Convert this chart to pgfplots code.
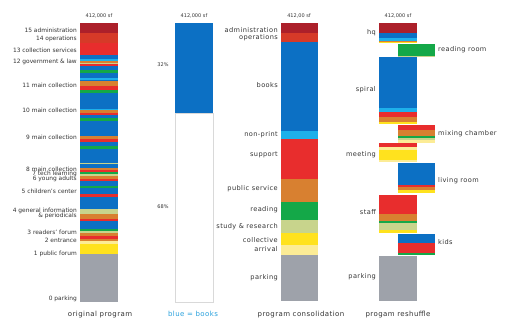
\documentclass[border=0pt]{standalone}
\usepackage{pgfplots}
\pgfplotsset{compat=1.18}
\usepackage{fontspec}
\setmainfont{DejaVu Sans}
\newfontfamily\spc[LetterSpace=6]{DejaVu Sans}
\definecolor{cDR}{RGB}{172,32,42}
\definecolor{cOR}{RGB}{214,58,40}
\definecolor{cR}{RGB}{232,45,45}
\definecolor{cB}{RGB}{12,112,196}
\definecolor{cLB}{RGB}{30,176,234}
\definecolor{cO}{RGB}{216,128,48}
\definecolor{cG}{RGB}{20,168,72}
\definecolor{cK}{RGB}{200,212,140}
\definecolor{cY}{RGB}{255,226,30}
\definecolor{cLY}{RGB}{252,236,150}
\definecolor{cGr}{RGB}{158,162,170}
\definecolor{txt}{RGB}{50,50,50}
\definecolor{bluetxt}{RGB}{40,160,220}
% rectangle segment: x1 x2 ytop ybottom colour
\newcommand{\seg}[5]{\addplot[fill=#5, draw=none] coordinates {(#1,#3) (#2,#3) (#2,#4) (#1,#4)} -- cycle;}
\newcommand{\segA}[3]{\seg{80}{118}{#1}{#2}{#3}}
\newcommand{\segC}[3]{\seg{281}{318}{#1}{#2}{#3}}
\newcommand{\segL}[3]{\seg{379}{417}{#1}{#2}{#3}}
\newcommand{\segR}[3]{\seg{398}{435}{#1}{#2}{#3}}
\begin{document}
\begin{tikzpicture}
\begin{axis}[scale only axis, width=514pt, height=329pt,
  xmin=0, xmax=514, ymin=0, ymax=329, y dir=reverse,
  axis lines=none, clip=false]
\path (rel axis cs:0,0) rectangle (rel axis cs:1,1);
% ---------- column 1: original program
\segA{22.7}{33.3}{cDR}
\segA{33.3}{43.3}{cOR}
\segA{43.3}{55}{cR}
\segA{55}{59.3}{cB}
\segA{59.3}{60.7}{cLB}
\segA{60.7}{62.7}{cO}
\segA{62.7}{64}{cK}
\segA{64}{65.7}{cR}
\segA{65.7}{70}{cB}
\segA{70}{73.3}{cG}
\segA{73.3}{78}{cB}
\segA{78}{79.7}{cLB}
\segA{79.7}{81}{cB}
\segA{81}{86}{cO}
\segA{86}{89.7}{cR}
\segA{89.7}{93}{cG}
\segA{93}{108.7}{cB}
\segA{108.7}{109.7}{cLB}
\segA{109.7}{113}{cO}
\segA{113}{115.3}{cR}
\segA{115.3}{118}{cB}
\segA{118}{121.3}{cG}
\segA{121.3}{136}{cB}
\segA{136}{139.3}{cO}
\segA{139.3}{142}{cR}
\segA{142}{146}{cB}
\segA{146}{148.7}{cG}
\segA{148.7}{162.7}{cB}
\segA{162.7}{164.3}{cK}
\segA{164.3}{167.7}{cB}
\segA{167.7}{170}{cO}
\segA{170}{172}{cR}
\segA{172}{174}{cG}
\segA{174}{176}{cK}
\segA{176}{178.7}{cO}
\segA{178.7}{181}{cR}
\segA{181}{186}{cB}
\segA{186}{188}{cG}
\segA{188}{194}{cB}
\segA{194}{197.3}{cR}
\segA{197.3}{209}{cB}
\segA{209}{214}{cK}
\segA{214}{219}{cO}
\segA{219}{221.3}{cR}
\segA{221.3}{229}{cB}
\segA{229}{231.3}{cG}
\segA{231.3}{233.3}{cK}
\segA{233.3}{235.7}{cO}
\segA{235.7}{239}{cR}
\segA{239}{240.7}{cO}
\segA{240.7}{244}{cLY}
\segA{244}{254}{cY}
\segA{254}{302}{cGr}
% ---------- column 2: blue = books
\addplot[fill=white, draw=black!15] coordinates {(175,113) (213,113) (213,302) (175,302)} -- cycle;
\seg{175}{213}{23.3}{113}{cB}
% ---------- column 3: program consolidation
\segC{23.3}{33.3}{cDR}
\segC{33.3}{41.7}{cOR}
\segC{41.7}{131}{cB}
\segC{131}{139.3}{cLB}
\segC{139.3}{179}{cR}
\segC{179}{201.7}{cO}
\segC{201.7}{220}{cG}
\segC{220}{232.7}{cK}
\segC{232.7}{245}{cY}
\segC{245}{255}{cLY}
\segC{255}{301}{cGr}
% ---------- column 4: program reshuffle
% hq
\segL{22.7}{33.3}{cDR}
\segL{33.3}{38.3}{cB}
\segL{38.3}{41}{cLB}
\segL{41}{42.3}{cO}
\segL{42.3}{43.5}{cY}
% reading room
\segR{44.3}{56}{cG}
\segR{56}{56.8}{cK}
% spiral
\segL{56.8}{107.7}{cB}
\segL{107.7}{112.3}{cLB}
\segL{112.3}{117.3}{cR}
\segL{117.3}{122.3}{cO}
\segL{122.3}{124}{cY}
% mixing chamber
\segR{125}{130}{cR}
\segR{130}{135.7}{cO}
\segR{135.7}{137.7}{cG}
\segR{137.7}{140}{cK}
\segR{140}{142.7}{cLY}
% meeting
\segL{143.3}{146.7}{cR}
\segL{146.7}{150}{cLY}
\segL{150}{160}{cY}
\segL{160}{161.8}{cLY}
% living room
\segR{162.7}{185}{cB}
\segR{185}{187.3}{cR}
\segR{187.3}{190}{cO}
\segR{190}{193.3}{cY}
% staff
\segL{195}{214}{cR}
\segL{214}{221}{cO}
\segL{221}{222.7}{cG}
\segL{222.7}{230}{cK}
\segL{230}{232.7}{cY}
% kids
\segR{234}{242.7}{cB}
\segR{242.7}{252.7}{cR}
\segR{252.7}{255}{cG}
% parking
\segL{256}{301}{cGr}
% ---------- texts
\begin{scope}[every node/.style={text=txt, inner sep=0pt}]
\node[font=\fontsize{5}{6}\selectfont] at (axis cs:99,16) {412,000 sf};
\node[font=\fontsize{5}{6}\selectfont] at (axis cs:194,16) {412,000 sf};
\node[font=\fontsize{5}{6}\selectfont] at (axis cs:299,16) {412,00 sf};
\node[font=\fontsize{5}{6}\selectfont] at (axis cs:398,16) {412,000 sf};
\node[font=\fontsize{5}{6}\selectfont] at (axis cs:163,65) {32\%};
\node[font=\fontsize{5}{6}\selectfont] at (axis cs:163,207) {68\%};
\begin{scope}[every node/.append style={anchor=east, font=\fontsize{5.9}{7}\selectfont}]
\node at (axis cs:77,30.7) {15 administration};
\node at (axis cs:77,39) {14 operations};
\node at (axis cs:77,50) {13 collection services};
\node at (axis cs:77,62.3) {12 government \& law};
\node at (axis cs:77,85.7) {11 main collection};
\node at (axis cs:77,110) {10 main collection};
\node at (axis cs:77,137.3) {9 main collection};
\node at (axis cs:77,169) {8 main collection};
\node at (axis cs:77,174.3) {7 tech learning};
\node at (axis cs:77,179.3) {6 young adults};
\node at (axis cs:77,191.7) {5 children's center};
\node at (axis cs:77,210.7) {4 general information};
\node at (axis cs:77,216) {\& periodicals};
\node at (axis cs:77,232.7) {3 readers' forum};
\node at (axis cs:77,240) {2 entrance};
\node at (axis cs:77,254) {1 public forum};
\node at (axis cs:77,299) {0 parking};
\end{scope}
\begin{scope}[every node/.append style={anchor=east, font=\spc\fontsize{6.6}{8}\selectfont}]
\node at (axis cs:278,30) {administration};
\node at (axis cs:278,37.7) {operations};
\node at (axis cs:278,85) {books};
\node at (axis cs:278,135) {non-print};
\node at (axis cs:278,155) {support};
\node at (axis cs:278,189) {public service};
\node at (axis cs:278,210) {reading};
\node at (axis cs:278,226.7) {study \& research};
\node at (axis cs:278,240) {collective};
\node at (axis cs:278,249.3) {arrival};
\node at (axis cs:278,277.3) {parking};
\node at (axis cs:376,32.3) {hq};
\node at (axis cs:376,90) {spiral};
\node at (axis cs:376,155) {meeting};
\node at (axis cs:376,212.3) {staff};
\node at (axis cs:376,276.7) {parking};
\end{scope}
\begin{scope}[every node/.append style={anchor=west, font=\spc\fontsize{6.6}{8}\selectfont}]
\node at (axis cs:438,49.3) {reading room};
\node at (axis cs:438,133.3) {mixing chamber};
\node at (axis cs:438,180.7) {living room};
\node at (axis cs:438,242.3) {kids};
\end{scope}
\begin{scope}[every node/.append style={font=\spc\fontsize{7}{8}\selectfont}]
\node at (axis cs:100,314.3) {original program};
\node[text=bluetxt] at (axis cs:193,314.3) {blue = books};
\node at (axis cs:301,314.3) {program consolidation};
\node at (axis cs:398,314.3) {progam reshuffle};
\end{scope}
\end{scope}
\end{axis}
\end{tikzpicture}
\end{document}
